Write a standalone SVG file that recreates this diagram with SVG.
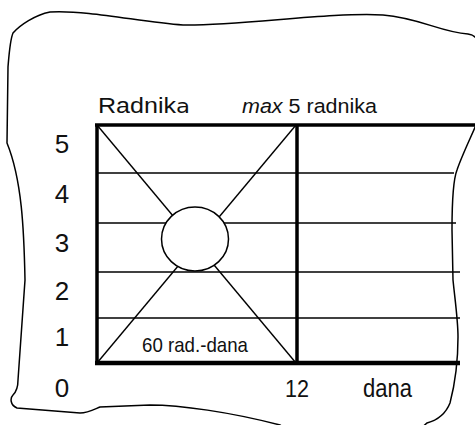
<svg xmlns="http://www.w3.org/2000/svg" width="475" height="425" viewBox="0 0 475 425">
<style>
.t{font-family:"Liberation Sans",Arial,sans-serif;fill:#111}
.ax{font-size:26px;text-anchor:middle}
.thin{stroke:#000;stroke-width:1.4;fill:none}
.thick{stroke:#000;stroke-width:3.5;fill:none}
</style>
<rect width="475" height="425" fill="#fff"/>
<g id="outline">
<path d="M 13 33 C 20 25, 35 15, 50 12 C 90 10, 140 22, 183 25 C 240 26, 330 12, 383 15 C 420 18, 440 32, 468 34 C 476 35, 479 40, 479 50 L 479 118 C 472 135, 462 155, 457 170 C 453 180, 452 200, 452 230 L 453 280 C 455 300, 458 320, 458 337 C 458 355, 456 380, 450 403 C 446 413, 438 420, 427 423 L 410 438 L 300 438 L 280 425 C 230 412, 180 405, 150 405 L 100 407 C 95 409, 88 413, 80 413 L 17 408 C 10 405, 10 398, 13 395 C 16 392, 18 388, 18 380 L 25 280 C 24 230, 22 180, 7 143 L 8 67 C 9 55, 10 40, 13 33 Z" fill="none" stroke="#000" stroke-width="1.5"/>
</g>
<g id="grid">
<line class="thin" x1="97" y1="173" x2="454" y2="173"/>
<line class="thin" x1="97" y1="223" x2="456" y2="223"/>
<line class="thin" x1="97" y1="272" x2="460" y2="272"/>
<line class="thin" x1="97" y1="318" x2="460" y2="318"/>
<line class="thin" x1="97" y1="125" x2="296" y2="363"/>
<line class="thin" x1="296" y1="125" x2="97" y2="363"/>
<line class="thick" x1="95" y1="125" x2="475" y2="125"/>
<line class="thick" x1="97" y1="125" x2="97" y2="363"/>
<line class="thick" x1="297" y1="125" x2="297" y2="363"/>
<line x1="95" y1="363" x2="460" y2="363" stroke="#000" stroke-width="4.5"/>
</g>
<g id="circle">
<ellipse cx="195" cy="239" rx="33.5" ry="32" fill="#fff" stroke="#000" stroke-width="1.5"/>
</g>
<g id="labels">
<text class="t" x="98" y="113" font-size="22" textLength="92" lengthAdjust="spacingAndGlyphs">Radnik<tspan font-family="DejaVu Sans,sans-serif" font-size="20">a</tspan></text>
<text class="t" x="242" y="112.5" font-size="20.5" textLength="135" lengthAdjust="spacingAndGlyphs"><tspan font-style="italic">max</tspan> 5 radnika</text>
<text class="t" x="142" y="351.5" font-size="21" textLength="106" lengthAdjust="spacingAndGlyphs">60 rad.-dana</text>
<text class="t ax" x="62" y="153">5</text>
<text class="t ax" x="62" y="203">4</text>
<text class="t ax" x="62" y="252">3</text>
<text class="t ax" x="62" y="300">2</text>
<text class="t ax" x="62" y="346">1</text>
<text class="t ax" x="62" y="397">0</text>
<text class="t" x="285" y="396.5" font-size="24.5" textLength="24" lengthAdjust="spacingAndGlyphs">12</text>
<text class="t" x="363" y="396.5" font-size="25" textLength="49" lengthAdjust="spacingAndGlyphs">dana</text>
</g>
</svg>
